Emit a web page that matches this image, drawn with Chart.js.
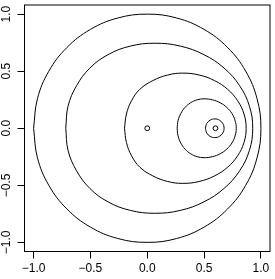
<!DOCTYPE html>
<html>
<head>
<meta charset="utf-8">
<script src="https://cdn.jsdelivr.net/npm/chart.js@4"></script>
<style>
html,body{margin:0;padding:0;background:#fff;}
canvas{display:block;}
</style>
</head>
<body>
<canvas id="c" width="275" height="279"></canvas>
<script>
// ---- data ----
const tickValues = [-1, -0.5, 0, 0.5, 1];
const xTickLabels = ['\u22121.0', '\u22120.5', '0.0', '0.5', '1.0'];
const yTickLabels = ['\u22121.0', '\u22120.5', '0.0', '0.5', '1.0'];

const pointsX = [0, 0.6];
const pointsY = [0, 0];

const circle1X = [-1, -0.966, -0.866, -0.707, -0.5, -0.259, 0, 0.259, 0.5, 0.707, 0.866, 0.966, 1,
                  0.966, 0.866, 0.707, 0.5, 0.259, 0, -0.259, -0.5, -0.707, -0.866, -0.966, -1];
const circle1Y = [0, 0.259, 0.5, 0.707, 0.866, 0.966, 1, 0.966, 0.866, 0.707, 0.5, 0.259, 0,
                  -0.259, -0.5, -0.707, -0.866, -0.966, -1, -0.966, -0.866, -0.707, -0.5, -0.259, 0];

const curve2X = [-0.717, -0.697, -0.622, -0.505, -0.345, -0.148, 0.067, 0.290, 0.498, 0.676, 0.813, 0.899, 0.928,
                 0.899, 0.813, 0.676, 0.498, 0.290, 0.067, -0.148, -0.345, -0.505, -0.622, -0.697, -0.717];
const curve2Y = [0, 0.193, 0.3725, 0.527, 0.645, 0.720, 0.745, 0.720, 0.645, 0.527, 0.3725, 0.193, 0,
                 -0.193, -0.3725, -0.527, -0.645, -0.720, -0.745, -0.720, -0.645, -0.527, -0.3725, -0.193, 0];

const curve3X = [-0.200, -0.183, -0.138, -0.065, 0.050, 0.180, 0.312, 0.456, 0.591, 0.707, 0.795, 0.851, 0.870,
                 0.851, 0.795, 0.707, 0.591, 0.456, 0.312, 0.180, 0.050, -0.065, -0.138, -0.183, -0.200];
const curve3Y = [0, 0.125, 0.2415, 0.3415, 0.418, 0.4665, 0.483, 0.4665, 0.418, 0.3415, 0.2415, 0.125, 0,
                 -0.125, -0.2415, -0.3415, -0.418, -0.4665, -0.483, -0.4665, -0.418, -0.3415, -0.2415, -0.125, 0];

const curve4X = [0.263, 0.271, 0.295, 0.332, 0.3815, 0.439, 0.500, 0.573, 0.6415, 0.700, 0.745, 0.773, 0.783,
                 0.773, 0.745, 0.700, 0.6415, 0.573, 0.500, 0.439, 0.3815, 0.332, 0.295, 0.271, 0.263];
const curve4Y = [0, 0.0668, 0.129, 0.1824, 0.2234, 0.2492, 0.258, 0.2492, 0.2234, 0.1824, 0.129, 0.0668, 0,
                 -0.0668, -0.129, -0.1824, -0.2234, -0.2492, -0.258, -0.2492, -0.2234, -0.1824, -0.129, -0.0668, 0];

const curve5X = [0.512, 0.523, 0.553, 0.594, 0.635, 0.665, 0.676, 0.665, 0.635, 0.594, 0.553, 0.523, 0.512];
const curve5Y = [0, 0.041, 0.071, 0.082, 0.071, 0.041, 0, -0.041, -0.071, -0.082, -0.071, -0.041, 0];

// ---- build chart ----
function zip(xs, ys) { return xs.map((x, i) => ({x: x, y: ys[i]})); }
function curve(xs, ys) {
  return {
    data: zip(xs, ys), showLine: true, borderColor: '#000', borderWidth: 1,
    pointRadius: 0, tension: 0.4, fill: false
  };
}
const FONT = "'Liberation Sans', Arial, Helvetica, sans-serif";

const framePlugin = {
  id: 'frame',
  afterDraw(chart) {
    const {ctx, chartArea: a} = chart;
    ctx.save();
    ctx.strokeStyle = '#000';
    ctx.lineWidth = 1;
    ctx.strokeRect(a.left, a.top, a.right - a.left, a.bottom - a.top);
    // rotated y tick labels (R style)
    const ys = chart.scales.y;
    ctx.fillStyle = '#000';
    ctx.font = '12px ' + FONT;
    ctx.textAlign = 'center';
    ctx.textBaseline = 'alphabetic';
    tickValues.forEach((v, i) => {
      const py = ys.getPixelForValue(v);
      ctx.save();
      ctx.translate(9.5, py);
      ctx.rotate(-Math.PI / 2);
      ctx.fillText(yTickLabels[i], 0, 0);
      ctx.restore();
    });
    ctx.restore();
  }
};

new Chart(document.getElementById('c'), {
  type: 'scatter',
  data: {
    datasets: [
      curve(circle1X, circle1Y),
      curve(curve2X, curve2Y),
      curve(curve3X, curve3Y),
      curve(curve4X, curve4Y),
      curve(curve5X, curve5Y),
      {
        data: zip(pointsX, pointsY), showLine: false, pointStyle: 'circle',
        pointRadius: 2.4, borderColor: '#000', borderWidth: 1, backgroundColor: 'rgba(0,0,0,0)'
      }
    ]
  },
  options: {
    responsive: false,
    devicePixelRatio: 1,
    animation: false,
    events: [],
    layout: {padding: {top: 3.5, right: 1.5, left: 0, bottom: 0}},
    plugins: {legend: {display: false}, tooltip: {enabled: false}},
    scales: {
      x: {
        type: 'linear', min: -1.08, max: 1.08,
        afterBuildTicks: s => { s.ticks = tickValues.map(v => ({value: v})); },
        afterFit: s => { s.height = 279 - 251.5; },
        grid: {drawOnChartArea: false, drawTicks: true, tickLength: 7, color: '#000', lineWidth: 1},
        border: {display: false},
        ticks: {
          color: '#000', font: {size: 12, family: FONT}, padding: 3, maxRotation: 0, autoSkip: false,
          callback: v => { const i = tickValues.indexOf(v); return i >= 0 ? xTickLabels[i] : ''; }
        }
      },
      y: {
        type: 'linear', min: -1.08, max: 1.08,
        afterBuildTicks: s => { s.ticks = tickValues.map(v => ({value: v})); },
        afterFit: s => { s.width = 24.5; },
        grid: {drawOnChartArea: false, drawTicks: true, tickLength: 7, color: '#000', lineWidth: 1},
        border: {display: false},
        ticks: {display: false}
      }
    }
  },
  plugins: [framePlugin]
});
</script>
</body>
</html>
